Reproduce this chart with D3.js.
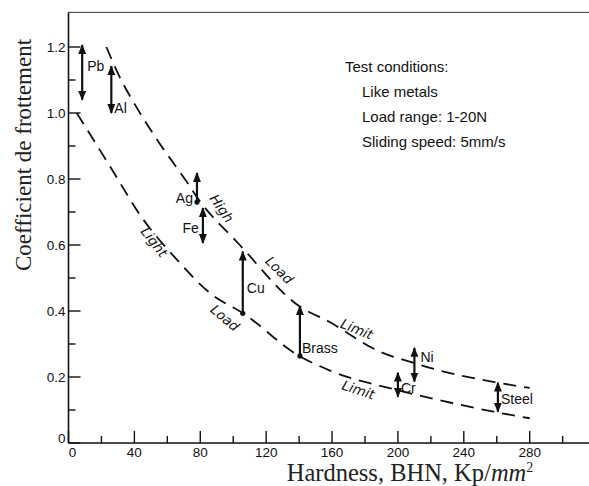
<!DOCTYPE html>
<html>
<head>
<meta charset="utf-8">
<script src="https://cdn.jsdelivr.net/npm/d3@7"></script>
<style>
body { margin: 0; background: #fff; }
svg { display: block; }
.tick-lbl { font-family: "Liberation Sans", Arial, sans-serif; font-size: 13.5px; fill: #111; }
.note { font-family: "Liberation Sans", Arial, sans-serif; font-size: 14px; fill: #111; }
.cond { font-family: "Liberation Sans", Arial, sans-serif; font-size: 15px; fill: #111; }
.curve-lbl { font-family: "DejaVu Sans", sans-serif; font-style: italic; font-size: 13.5px; fill: #111; }
.title { font-family: "Liberation Serif", "Times New Roman", serif; font-size: 23px; fill: #222; }
</style>
</head>
<body>
<svg width="589" height="486"></svg>
<script>
// high load limit curve (upper) and light load limit curve (lower)
var upperHardness = [23, 30, 41, 55, 72, 78, 104, 140, 158, 189, 210, 225, 257, 280];
var upperCoef     = [1.20, 1.12, 1.02, 0.91, 0.79, 0.745, 0.60, 0.415, 0.368, 0.277, 0.242, 0.22, 0.186, 0.167];
var lowerHardness = [5, 25, 45, 65, 87, 106, 140, 158, 200, 225, 258, 280];
var lowerCoef     = [1.0, 0.84, 0.68, 0.56, 0.45, 0.393, 0.264, 0.221, 0.16, 0.13, 0.095, 0.075];

// friction range per metal
var metals        = ["Pb", "Al", "Ag", "Fe", "Cu", "Brass", "Ni", "Cr", "Steel"];
var metalHardness = [8.3, 26, 78, 81.6, 105.8, 140.5, 210, 200, 260.7];
var metalLow      = [1.04, 1.0, 0.73, 0.606, 0.393, 0.264, 0.186, 0.14, 0.095];
var metalHigh     = [1.206, 1.142, 0.818, 0.712, 0.58, 0.415, 0.288, 0.213, 0.183];

var xTicks = [0, 40, 80, 120, 160, 200, 240, 280];
var yTicks = [0, 0.2, 0.4, 0.6, 0.8, 1.0, 1.2];
var yTickLabels = ["0", "0.2", "0.4", "0.6", "0.8", "1.0", "1.2"];

var notes = ["Test conditions:", "Like metals", "Load range: 1-20N", "Sliding speed: 5mm/s"];

var svg = d3.select("svg");
var x = d3.scaleLinear().domain([0, 316]).range([68.5, 589]);
var y = d3.scaleLinear().domain([0, 1.3]).range([443, 14]);

var g = svg.append("g");

// frame: left axis, bottom axis, thin top line
g.append("line").attr("x1", x(0)).attr("x2", x(0)).attr("y1", y(1.305)).attr("y2", y(0))
  .attr("stroke", "#111").attr("stroke-width", 1.6);
g.append("line").attr("x1", x(0)).attr("x2", 589).attr("y1", y(0)).attr("y2", y(0))
  .attr("stroke", "#111").attr("stroke-width", 1.6);
g.append("line").attr("x1", x(0)).attr("x2", 589).attr("y1", y(1.305)).attr("y2", y(1.305))
  .attr("stroke", "#333").attr("stroke-width", 1);

// x ticks (major every 40, minor every 20)
var xMinor = d3.range(20, 316, 40);
g.selectAll(".xmaj").data(xTicks).enter().append("line")
  .attr("x1", function(d) { return x(d); }).attr("x2", function(d) { return x(d); })
  .attr("y1", y(0)).attr("y2", y(0) - 12).attr("stroke", "#111").attr("stroke-width", 1.4);
g.selectAll(".xmin").data(xMinor).enter().append("line")
  .attr("x1", function(d) { return x(d); }).attr("x2", function(d) { return x(d); })
  .attr("y1", y(0)).attr("y2", y(0) - 7).attr("stroke", "#111").attr("stroke-width", 1.4);
g.selectAll(".xlbl").data(xTicks).enter().append("text")
  .attr("class", "tick-lbl")
  .attr("x", function(d) { return x(d) + (d === 0 ? 4 : 0); })
  .attr("y", y(0) + 14)
  .attr("text-anchor", "middle")
  .text(function(d) { return d; });

// y ticks (major every 0.2, minor every 0.1)
var yMinor = d3.range(0.1, 1.25, 0.2);
g.selectAll(".ymaj").data(yTicks).enter().append("line")
  .attr("x1", x(0)).attr("x2", x(0) + 12)
  .attr("y1", function(d) { return y(d); }).attr("y2", function(d) { return y(d); })
  .attr("stroke", "#111").attr("stroke-width", 1.4);
g.selectAll(".ymin").data(yMinor).enter().append("line")
  .attr("x1", x(0)).attr("x2", x(0) + 7)
  .attr("y1", function(d) { return y(d); }).attr("y2", function(d) { return y(d); })
  .attr("stroke", "#111").attr("stroke-width", 1.4);
g.selectAll(".ylbl").data(yTicks).enter().append("text")
  .attr("class", "tick-lbl")
  .attr("x", x(0) - 3)
  .attr("y", function(d) { return y(d) + (d === 0 ? 0 : 5); })
  .attr("text-anchor", "end")
  .text(function(d, i) { return yTickLabels[i]; });

// dashed limit curves
var line = d3.line()
  .x(function(d) { return x(d[0]); })
  .y(function(d) { return y(d[1]); })
  .curve(d3.curveMonotoneX);

g.append("path").datum(d3.zip(upperHardness, upperCoef))
  .attr("d", line).attr("fill", "none").attr("stroke", "#111")
  .attr("stroke-width", 1.8).attr("stroke-dasharray", "13,8");
g.append("path").datum(d3.zip(lowerHardness, lowerCoef))
  .attr("d", line).attr("fill", "none").attr("stroke", "#111")
  .attr("stroke-width", 1.8).attr("stroke-dasharray", "13,8");

// curve labels: [text, hardness, coef, angle]
var curveLabels = [
  ["High", 93, 0.711, 55], ["Load", 128, 0.524, 45], ["Limit", 175, 0.345, 22],
  ["Light", 52, 0.609, 52], ["Load", 95, 0.379, 40], ["Limit", 176, 0.161, 18]
];
g.selectAll(".clbl").data(curveLabels).enter().append("text")
  .attr("class", "curve-lbl")
  .attr("text-anchor", "middle")
  .attr("dy", "0.35em")
  .attr("transform", function(d) { return "translate(" + x(d[1]) + "," + y(d[2]) + ") rotate(" + d[3] + ")"; })
  .text(function(d) { return d[0]; });

// arrows for metal ranges
var defs = svg.append("defs");
defs.append("marker").attr("id", "head").attr("viewBox", "0 0 10 10")
  .attr("refX", 9).attr("refY", 5).attr("markerWidth", 4.5).attr("markerHeight", 4.5)
  .attr("markerUnits", "strokeWidth").attr("orient", "auto-start-reverse")
  .append("path").attr("d", "M0,1 L10,5 L0,9 Z").attr("fill", "#111");

// which ends carry a head (the others get a dot on the curve)
var bothHeads = { Pb: 1, Al: 1, Fe: 1, Ni: 1, Cr: 1, Steel: 1 };
// label placement [dx px, coef of baseline, anchor]
var labelPos = {
  Pb: [5, 1.127, "start"], Al: [3, 1.0, "start"], Ag: [-4, 0.727, "end"],
  Fe: [-4, 0.636, "end"], Cu: [4, 0.455, "start"], Brass: [2, 0.273, "start"],
  Ni: [6, 0.245, "start"], Cr: [3, 0.152, "start"], Steel: [3, 0.118, "start"]
};

metals.forEach(function(m, i) {
  var a = g.append("line")
    .attr("x1", x(metalHardness[i])).attr("x2", x(metalHardness[i]))
    .attr("y1", y(metalLow[i])).attr("y2", y(metalHigh[i]))
    .attr("stroke", "#111").attr("stroke-width", 2.2)
    .attr("marker-end", "url(#head)");
  if (bothHeads[m]) {
    a.attr("marker-start", "url(#head)");
  } else {
    g.append("circle").attr("cx", x(metalHardness[i])).attr("cy", y(metalLow[i]))
      .attr("r", 2.6).attr("fill", "#111");
  }
  var p = labelPos[m];
  g.append("text").attr("class", "note")
    .attr("x", x(metalHardness[i]) + p[0]).attr("y", y(p[1]))
    .attr("text-anchor", p[2])
    .text(m);
});

// test condition notes
g.selectAll(".note-line").data(notes).enter().append("text")
  .attr("class", "cond")
  .attr("x", function(d, i) { return i === 0 ? 345 : 362; })
  .attr("y", function(d, i) { return 72 + i * 25; })
  .text(function(d) { return d; });

// axis titles
svg.append("text").attr("class", "title")
  .attr("transform", "translate(31,155) rotate(-90)")
  .attr("text-anchor", "middle")
  .text("Coefficient de frottement");

var xt = svg.append("text").attr("class", "title")
  .attr("x", 410).attr("y", 481).attr("text-anchor", "middle")
  .style("font-size", "24.5px");
xt.append("tspan").text("Hardness,  BHN,  Kp/");
xt.append("tspan").attr("font-style", "italic").text("mm");
xt.append("tspan").attr("font-size", "14px").attr("dy", -9).text("2");
</script>
</body>
</html>
